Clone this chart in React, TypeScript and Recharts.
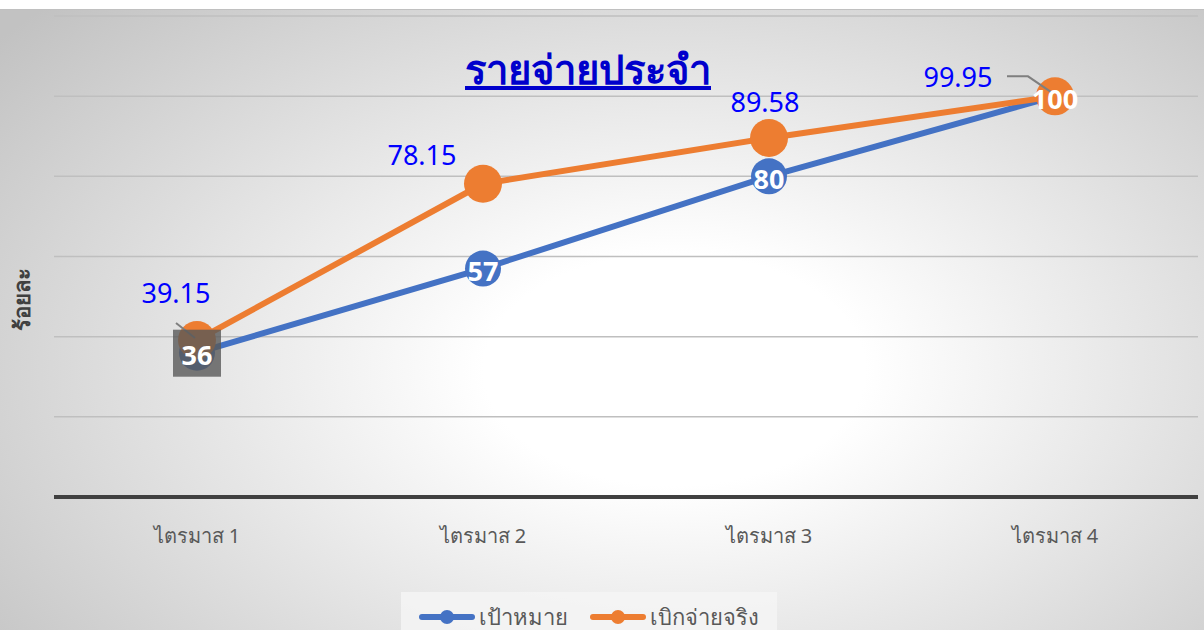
import React from "react";
import { LineChart, Line, XAxis, YAxis, CartesianGrid, LabelList } from "recharts";

// quarter labels and the two series (percent)
const quarters = ["ไตรมาส 1", "ไตรมาส 2", "ไตรมาส 3", "ไตรมาส 4"];
const target = [36, 57, 80, 100];
const actual = [39.15, 78.15, 89.58, 99.95];
const yTicks = [0, 20, 40, 60, 80, 100];

const data = quarters.map((q, i) => ({ name: q, target: target[i], actual: actual[i] }));

const BLUE = "#4472C4";
const ORANGE = "#ED7D31";
const FONT = "'Noto Sans', 'DejaVu Sans', sans-serif";

// where each orange label sits relative to its point, and whether it gets a leader line
const actualLabelShift = [
  { dx: -21, dy: -48, leader: true },
  { dx: -61, dy: -29, leader: false },
  { dx: -4, dy: -36, leader: false },
  { dx: -97, dy: -20, leader: true },
];

const ActualLabel = (props: any) => {
  const { x, y, value, index } = props;
  const s = actualLabelShift[index];
  const lx = x + s.dx;
  const ly = y + s.dy;
  return (
    <g>
      {s.leader && index === 0 && (
        <polyline points={`${x - 21},${y - 17} ${x - 2},${y - 2}`} fill="none" stroke="#7f7f7f" strokeWidth={2} />
      )}
      {s.leader && index === 3 && (
        <polyline
          points={`${lx + 49},${ly} ${lx + 70},${ly} ${x - 2},${y - 3}`}
          fill="none"
          stroke="#7f7f7f"
          strokeWidth={2}
        />
      )}
      <text x={lx} y={ly} textAnchor="middle" dominantBaseline="central" fill="#0000FF" fontSize={27} fontFamily={FONT}>
        {value}
      </text>
    </g>
  );
};

const TargetLabel = (props: any) => {
  const { x, y, value, index } = props;
  return (
    <g>
      {index === 0 && <rect x={x - 24} y={y - 23} width={48} height={47} fill="#595959" fillOpacity={0.8} />}
      <text
        x={x}
        y={y + 2}
        textAnchor="middle"
        dominantBaseline="central"
        fill="#ffffff"
        fontSize={27}
        fontWeight="bold"
        fontFamily={FONT}
      >
        {value}
      </text>
    </g>
  );
};

const LegendItem = ({ color, label }: { color: string; label: string }) => (
  <div style={{ display: "flex", alignItems: "center", marginRight: 22, whiteSpace: "nowrap" }}>
    <svg width={56} height={20}>
      <line x1={3} y1={10} x2={53} y2={10} stroke={color} strokeWidth={6} strokeLinecap="round" />
      <circle cx={28} cy={10} r={7} fill={color} />
    </svg>
    <span style={{ marginLeft: 4, fontSize: 22, color: "#595959" }}>{label}</span>
  </div>
);

export default function App() {
  return (
    <div
      style={{
        position: "absolute",
        left: 0,
        top: 9,
        width: 1204,
        height: 621,
        borderTop: "1px solid #c0c0c0",
        boxSizing: "border-box",
        background: "radial-gradient(ellipse 72% 85% at 56% 58%, #ffffff 0%, #ffffff 22%, #c2c2c2 100%)",
        fontFamily: FONT,
        overflow: "hidden",
      }}
    >
      <div
        style={{
          position: "absolute",
          left: 0,
          width: 1176,
          top: 34,
          textAlign: "center",
          fontSize: 40,
          fontWeight: "bold",
          color: "#0000CC",
          textDecoration: "underline",
          lineHeight: "50px",
        }}
      >
        รายจ่ายประจำ
      </div>
      <div
        style={{
          position: "absolute",
          left: 22,
          top: 289,
          transform: "translate(-50%, -50%) rotate(-90deg)",
          fontSize: 22,
          fontWeight: "bold",
          color: "#404040",
          whiteSpace: "nowrap",
        }}
      >
        ร้อยละ
      </div>
      <LineChart width={1204} height={620} data={data} margin={{ top: 6, right: 6, left: 54, bottom: 72 }}>
        <CartesianGrid horizontal vertical={false} stroke="#bfbfbf" strokeWidth={1.5} />
        <XAxis
          dataKey="name"
          padding={{ left: 143, right: 143 }}
          height={61}
          axisLine={{ stroke: "#404040", strokeWidth: 4 }}
          tickLine={false}
          tickMargin={26}
          tick={{ fill: "#595959", fontSize: 20, fontFamily: FONT }}
        />
        <YAxis hide domain={[0, 120]} ticks={yTicks} />
        <Line
          dataKey="target"
          stroke={BLUE}
          strokeWidth={6}
          dot={{ r: 18, fill: BLUE, stroke: "none" }}
          activeDot={false}
          isAnimationActive={false}
        />
        <Line
          dataKey="actual"
          stroke={ORANGE}
          strokeWidth={6}
          dot={{ r: 19, fill: ORANGE, stroke: "none" }}
          activeDot={false}
          isAnimationActive={false}
        >
          <LabelList dataKey="actual" content={ActualLabel} />
        </Line>
        {/* invisible copy of the target series so its labels sit above the orange dots */}
        <Line
          dataKey="target"
          stroke="none"
          dot={false}
          activeDot={false}
          legendType="none"
          isAnimationActive={false}
        >
          <LabelList dataKey="target" content={TargetLabel} />
        </Line>
      </LineChart>
      <div
        style={{
          position: "absolute",
          left: 401,
          top: 582,
          width: 376,
          height: 50,
          background: "rgba(245,245,245,0.85)",
          display: "flex",
          justifyContent: "center",
          alignItems: "center",
          paddingLeft: 22,
          boxSizing: "border-box",
        }}
      >
        <LegendItem color={BLUE} label="เป้าหมาย" />
        <LegendItem color={ORANGE} label="เบิกจ่ายจริง" />
      </div>
    </div>
  );
}
